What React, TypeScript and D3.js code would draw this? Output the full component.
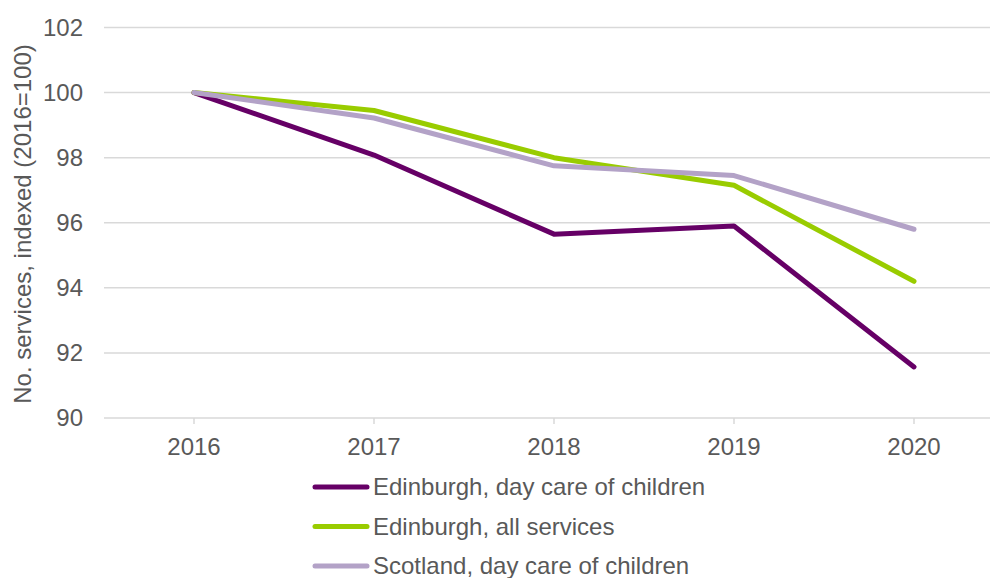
import React from "react";
import * as d3 from "d3";

const years = ["2016", "2017", "2018", "2019", "2020"];
const edinburghDayCare = [100, 98.08, 95.65, 95.9, 91.57];
const edinburghAll = [100, 99.45, 98.0, 97.15, 94.2];
const scotlandDayCare = [100, 99.22, 97.75, 97.45, 95.8];
const yTicks = [90, 92, 94, 96, 98, 100, 102];

const series = [
  { name: "Edinburgh, day care of children", values: edinburghDayCare, color: "#660066" },
  { name: "Edinburgh, all services", values: edinburghAll, color: "#99cc00" },
  { name: "Scotland, day care of children", values: scotlandDayCare, color: "#b3a2c7" },
];

export default function App() {
  const W = 990, H = 578;
  const x = d3.scaleBand<string>().domain(years).range([104, 1004]);
  const y = d3.scaleLinear().domain([90, 102]).range([418, 27.5]);
  const cx = (yr: string) => (x(yr) as number) + x.bandwidth() / 2;
  const line = d3
    .line<number>()
    .x((_, i) => cx(years[i]))
    .y((v) => y(v));
  const font = "'Liberation Sans', Arial, sans-serif";
  const textColor = "#595959";
  const fs = 24;
  return (
    <svg width={W} height={H} style={{ position: "absolute", left: 0, top: 0, background: "#fff" }}>
      <rect width={W} height={H} fill="#fff" />
      {yTicks.map((t) => (
        <g key={t}>
          <line x1={104} x2={W} y1={y(t)} y2={y(t)} stroke="#d9d9d9" strokeWidth={1.5} />
          <text x={83} y={y(t)} dy="0.35em" textAnchor="end" fontFamily={font} fontSize={fs} fill={textColor}>
            {t}
          </text>
        </g>
      ))}
      {years.map((yr) => (
        <g key={yr}>
          <line x1={cx(yr)} x2={cx(yr)} y1={418} y2={424} stroke="#d9d9d9" strokeWidth={1.5} />
          <text x={cx(yr)} y={455} textAnchor="middle" fontFamily={font} fontSize={fs} fill={textColor}>
            {yr}
          </text>
        </g>
      ))}
      <text
        transform={`translate(31,224) rotate(-90)`}
        textAnchor="middle"
        fontFamily={font}
        fontSize={fs}
        fill={textColor}
      >
        No. services, indexed (2016=100)
      </text>
      {series.map((s) => (
        <path
          key={s.name}
          d={line(s.values) as string}
          fill="none"
          stroke={s.color}
          strokeWidth={5}
          strokeLinejoin="round"
          strokeLinecap="round"
        />
      ))}
      {series.map((s, i) => {
        const ly = 487 + i * 39.5;
        return (
          <g key={s.name}>
            <line x1={315} x2={367} y1={ly} y2={ly} stroke={s.color} strokeWidth={5} strokeLinecap="round" />
            <text x={373} y={ly} dy="0.35em" fontFamily={font} fontSize={fs} fill={textColor}>
              {s.name}
            </text>
          </g>
        );
      })}
    </svg>
  );
}
